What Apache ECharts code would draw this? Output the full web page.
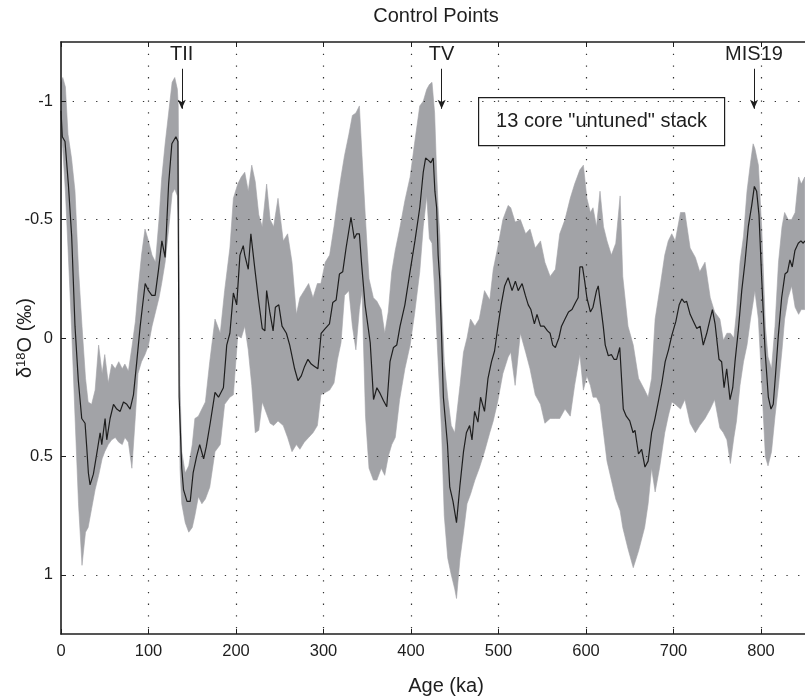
<!DOCTYPE html>
<html>
<head>
<meta charset="utf-8">
<title>Control Points</title>
<script src="https://cdn.jsdelivr.net/npm/echarts@6/dist/echarts.min.js"></script>
<style>
  html, body { margin: 0; padding: 0; background: #fff; }
  #chart { width: 805px; height: 700px; }
</style>
</head>
<body>
<div id="chart"></div>
<script>
// Stack mean (ka, permil)
const meanAge = [
  0, 1.5, 4.6, 8.4, 12.2, 16, 19.8, 23.7, 27.5, 29.4, 31.3, 33.2, 37, 40.8, 44.7, 46.6, 50.4, 52.3, 56.1, 60,
  63.7, 67.6, 71.4, 75.2, 79, 82.8, 86.6, 90.5, 93, 96.2, 100, 103.8, 107.6, 111.5, 115.3, 119, 123, 126.7, 131.3, 133.6,
  135, 138, 140, 144, 147.7, 151, 155, 158.5, 163, 166, 170.5, 176, 180, 185.6, 189.4, 193, 197, 200.8, 204.5, 208.3,
  210, 214, 217, 221.6, 225.4, 230, 233, 235, 238.6, 242.4, 245, 248.9, 252.6, 257.6, 261.4, 267, 270.8, 274.6, 278.4, 282.2,
  286, 289.8, 293.6, 297.3, 301.9, 306.8, 310.6, 314.4, 318.2, 322, 325.8, 331.4, 335.2, 338, 341, 343.6, 347.5, 351.2, 353.4, 357.2,
  361, 364.8, 368.6, 372.3, 376, 380, 383.7, 387.5, 393, 398.9, 404.5, 410, 414, 416.7, 420, 422.7, 425.4, 427.3, 429.3, 431,
  433, 435, 437, 441.7, 444.3, 448, 452, 456, 460, 463.3, 467, 469.7, 472.7, 476.5, 479.5, 484, 488, 492, 495.5, 499,
  503, 507, 511, 515.5, 519.3, 522.5, 527, 530.7, 534, 537, 541, 544, 548, 552, 556, 559, 562, 565, 569, 572,
  576, 580, 584, 588, 591, 593, 596, 598.5, 601, 605, 608, 612, 614, 616, 619.7, 622, 625.5, 629, 632, 635,
  638.6, 642.6, 646, 650, 653.8, 656, 660, 663.6, 667.4, 671, 675, 678.8, 682.6, 686.7, 690.5, 694.3, 698, 702.7, 706.5, 709.5,
  712.5, 715, 719, 722.8, 726.6, 730.4, 734, 738, 741.8, 744.5, 747.5, 752, 755, 757.8, 760.8, 764.6, 767.7, 770.3, 774, 778,
  781.7, 785.5, 789.4, 792.4, 795, 797.7, 800.8, 804.6, 808.4, 811.4, 814, 816.7, 819.8, 823.6, 827.4, 830.4, 833, 835.7, 838.8, 842.6,
  845.6, 848.3, 850
];
const meanD18O = [
  -0.96, -0.85, -0.83, -0.65, -0.43, -0.05, 0.18, 0.34, 0.36, 0.46, 0.57, 0.62, 0.575, 0.49, 0.40, 0.45, 0.34, 0.43, 0.34, 0.28,
  0.30, 0.31, 0.27, 0.28, 0.30, 0.24, 0.10, -0.05, -0.13, -0.23, -0.20, -0.18, -0.18, -0.29, -0.41, -0.34, -0.65, -0.82, -0.85, -0.83,
  0.25, 0.55, 0.64, 0.69, 0.69, 0.57, 0.50, 0.45, 0.51, 0.46, 0.36, 0.23, 0.25, 0.21, 0.03, -0.02, -0.19, -0.14, -0.35, -0.39,
  -0.35, -0.29, -0.44, -0.29, -0.17, -0.04, -0.03, -0.20, -0.11, -0.03, -0.13, -0.14, -0.05, -0.02, 0.03, 0.13, 0.18, 0.16, 0.12, 0.09,
  0.11, 0.12, 0.13, -0.02, -0.04, -0.06, -0.15, -0.16, -0.27, -0.28, -0.38, -0.51, -0.42, -0.44, -0.44, -0.31, -0.14, -0.04, 0.02, 0.26,
  0.21, 0.235, 0.265, 0.29, 0.10, 0.04, 0.03, -0.05, -0.14, -0.28, -0.41, -0.55, -0.70, -0.76, -0.75, -0.74, -0.76, -0.62, -0.55, -0.35,
  -0.24, 0.0, 0.25, 0.45, 0.63, 0.69, 0.78, 0.62, 0.48, 0.40, 0.37, 0.43, 0.31, 0.355, 0.25, 0.31, 0.17, 0.10, 0.055, -0.04,
  -0.14, -0.22, -0.255, -0.20, -0.24, -0.20, -0.23, -0.18, -0.14, -0.12, -0.06, -0.10, -0.05, -0.05, -0.03, -0.02, 0.03, 0.04, 0.0, -0.05,
  -0.08, -0.11, -0.12, -0.15, -0.17, -0.30, -0.30, -0.24, -0.17, -0.11, -0.13, -0.20, -0.22, -0.16, -0.05, 0.03, 0.075, 0.07, 0.09, 0.09,
  0.04, 0.30, 0.33, 0.35, 0.40, 0.39, 0.49, 0.47, 0.545, 0.52, 0.40, 0.34, 0.27, 0.19, 0.10, 0.05, -0.01, -0.07, -0.14, -0.165,
  -0.15, -0.155, -0.10, -0.07, -0.04, -0.05, 0.03, -0.02, -0.08, -0.12, -0.06, 0.09, 0.10, 0.21, 0.13, 0.26, 0.21, 0.10, -0.03, -0.20,
  -0.32, -0.47, -0.56, -0.64, -0.62, -0.52, -0.25, 0.05, 0.25, 0.30, 0.28, 0.15, -0.01, -0.17, -0.27, -0.28, -0.33, -0.30, -0.37, -0.40,
  -0.41, -0.40, -0.41
];

// Spread envelope of the 13 records
const bandAge = [
  0, 2, 5, 8, 12, 16, 20, 24, 28, 31, 35, 39, 43, 47, 50, 54, 58, 62, 66, 70,
  73, 77, 81, 85, 88, 92, 96, 100, 104, 108, 112, 115, 119, 123, 127, 130, 133, 134, 136, 138,
  142, 146, 150, 153, 157, 161, 165, 170, 176, 182, 187, 193, 197, 202, 206, 210, 214, 218, 222, 226,
  230, 235, 239, 243, 248, 254, 259, 264, 269, 273, 278, 283, 288, 293, 297, 302, 307, 312, 316, 320,
  324, 329, 333, 337, 341, 344, 348, 352, 357, 361, 366, 370, 374, 378, 382, 387, 393, 399, 404, 410,
  414, 418, 421, 424, 427, 429, 431, 433, 435, 438, 442, 446, 450, 452, 456, 460, 464, 468, 473, 478,
  484, 490, 494, 499, 505, 511, 514, 519, 525, 531, 536, 542, 548, 553, 559, 565, 570, 576, 582, 587,
  593, 597, 601, 605, 608, 612, 616, 620, 624, 629, 634, 639, 642, 648, 654, 660, 667, 671, 675, 679,
  684, 690, 694, 698, 702, 708, 713, 719, 725, 730, 736, 742, 747, 753, 757, 761, 765, 769, 772, 776,
  780, 784, 788, 791, 793, 797, 801, 805, 808, 812, 816, 820, 824, 827, 831, 835, 839, 843, 846, 850
];
const bandUpper = [
  -1.08, -1.10, -1.06, -0.86, -0.76, -0.62, -0.29, -0.05, 0.17, 0.27, 0.28, 0.22, 0.03, 0.15, 0.07, 0.19, 0.11, 0.13, 0.10, 0.13,
  0.11, 0.14, 0.04, -0.07, -0.20, -0.35, -0.46, -0.41, -0.35, -0.32, -0.50, -0.67, -0.82, -0.95, -1.08, -1.10, -1.05, -0.98, 0.20, 0.48,
  0.57, 0.54, 0.45, 0.34, 0.33, 0.30, 0.27, 0.10, -0.08, -0.02, -0.20, -0.38, -0.59, -0.65, -0.68, -0.70, -0.62, -0.73, -0.66, -0.52,
  -0.47, -0.65, -0.50, -0.47, -0.59, -0.41, -0.44, -0.32, -0.10, -0.17, -0.20, -0.23, -0.17, -0.23, -0.23, -0.32, -0.35, -0.47, -0.58, -0.68,
  -0.77, -0.86, -0.94, -0.95, -0.98, -0.77, -0.50, -0.25, -0.17, -0.155, -0.12, -0.02, -0.11, -0.28, -0.37, -0.46, -0.58, -0.68, -0.82, -0.98,
  -1.00, -1.05, -1.07, -1.08, -0.95, -0.73, -0.55, -0.43, -0.15, 0.10, 0.25, 0.37, 0.40, 0.33, 0.20, 0.06, 0.00, -0.08, -0.05, -0.08,
  -0.20, -0.16, -0.29, -0.38, -0.50, -0.56, -0.55, -0.49, -0.50, -0.44, -0.46, -0.38, -0.41, -0.32, -0.26, -0.29, -0.44, -0.50, -0.59, -0.65,
  -0.71, -0.73, -0.59, -0.53, -0.55, -0.47, -0.62, -0.47, -0.41, -0.35, -0.40, -0.60, -0.26, -0.05, 0.03, 0.17, 0.22, 0.25, 0.17, -0.08,
  -0.20, -0.35, -0.41, -0.44, -0.41, -0.53, -0.53, -0.38, -0.34, -0.28, -0.32, -0.17, -0.11, -0.08, 0.01, -0.02, -0.02, 0.00, -0.11, -0.32,
  -0.43, -0.62, -0.74, -0.82, -0.80, -0.73, -0.45, -0.05, 0.08, 0.13, -0.05, -0.32, -0.47, -0.53, -0.50, -0.50, -0.53, -0.68, -0.65, -0.68
];
const bandLower = [
  -0.90, -0.80, -0.62, -0.38, -0.05, 0.33, 0.70, 0.96, 0.82, 0.80, 0.72, 0.64, 0.58, 0.51, 0.48, 0.45, 0.43, 0.42, 0.44, 0.45,
  0.42, 0.44, 0.55, 0.33, 0.15, 0.10, 0.07, 0.03, -0.05, -0.11, -0.17, -0.23, -0.32, -0.46, -0.61, -0.63, -0.60, -0.50, 0.55, 0.70,
  0.78, 0.82, 0.80, 0.75, 0.67, 0.70, 0.68, 0.63, 0.48, 0.45, 0.28, 0.25, 0.24, -0.01, 0.00, -0.05, 0.05, 0.20, 0.40, 0.39,
  0.27, 0.32, 0.36, 0.37, 0.35, 0.37, 0.42, 0.48, 0.45, 0.47, 0.44, 0.42, 0.40, 0.37, 0.24, 0.23, 0.22, 0.19, 0.09, 0.02,
  -0.18, -0.20, -0.05, 0.05, -0.12, -0.20, 0.33, 0.55, 0.60, 0.60, 0.55, 0.58, 0.50, 0.45, 0.42, 0.26, 0.13, 0.03, -0.10, -0.28,
  -0.47, -0.60, -0.42, -0.40, -0.20, -0.05, 0.10, 0.25, 0.40, 0.75, 0.93, 1.00, 1.06, 1.10, 0.93, 0.82, 0.70, 0.66, 0.60, 0.55,
  0.48, 0.40, 0.35, 0.27, 0.15, 0.08, 0.06, 0.20, -0.02, 0.06, 0.13, 0.24, 0.28, 0.36, 0.34, 0.34, 0.34, 0.30, 0.33, 0.20,
  0.07, 0.22, 0.16, 0.20, 0.25, 0.25, 0.28, 0.40, 0.52, 0.60, 0.68, 0.73, 0.80, 0.89, 0.97, 0.90, 0.80, 0.70, 0.55, 0.65,
  0.55, 0.40, 0.33, 0.27, 0.28, 0.30, 0.26, 0.36, 0.40, 0.37, 0.34, 0.30, 0.26, 0.38, 0.40, 0.43, 0.53, 0.42, 0.35, 0.20,
  0.10, 0.03, -0.08, -0.15, -0.20, -0.08, 0.20, 0.50, 0.54, 0.48, 0.33, 0.20, 0.05, -0.08, -0.17, -0.22, -0.13, -0.10, -0.12, -0.12
];

// Axis ticks
const ageTicks = [0, 100, 200, 300, 400, 500, 600, 700, 800];
const d18OTicks = [-1, -0.5, 0, 0.5, 1];

// Control point markers
const markerNames = ['TII', 'TV', 'MIS19'];
const markerAges = [138, 435, 792];
const arrowFrom = -1.137;
const arrowTo = -0.968;

const FONT = '"Liberation Sans", Arial, Helvetica, sans-serif';
const INK = '#1e1e1e';
const BAND = '#a2a3a7';

const gridDots = { color: '#333', width: 1.2, type: [1.3, 10.4] };

const chart = echarts.init(document.getElementById('chart'), null, { renderer: 'canvas' });

const gridLines = []
  .concat(d18OTicks.map(v => ({ yAxis: v, lineStyle: gridDots })))
  .concat(ageTicks.filter(v => v > 0).map(v => ({ xAxis: v, lineStyle: gridDots })));

const arrows = markerNames.map((name, i) => [
  {
    coord: [markerAges[i], arrowFrom],
    symbol: 'none',
    lineStyle: { color: INK, width: 1, type: 'solid' },
    label: {
      show: true, position: 'start', formatter: name, distance: 4,
      color: INK, fontSize: 20, fontFamily: FONT
    }
  },
  { coord: [markerAges[i], arrowTo], symbol: 'arrow', symbolSize: [6, 9] }
]);

// Envelope drawn as one polygon: upper edge forward, lower edge back
function renderBand(params, api) {
  if (params.dataIndex !== 0) return null;
  const pts = [];
  for (let i = 0; i < bandAge.length; i++) pts.push(api.coord([bandAge[i], bandUpper[i]]));
  for (let i = bandAge.length - 1; i >= 0; i--) pts.push(api.coord([bandAge[i], bandLower[i]]));
  return {
    type: 'polygon',
    shape: { points: pts },
    style: { fill: BAND, stroke: BAND, lineWidth: 0.6 }
  };
}

chart.setOption({
  animation: false,
  backgroundColor: '#fff',
  title: {
    text: 'Control Points',
    left: 431, top: 1, textAlign: 'center',
    textStyle: { fontFamily: FONT, fontSize: 20, fontWeight: 'normal', color: INK }
  },
  grid: { left: 61, top: 42, right: -26, bottom: 66, outerBoundsMode: 'none', containLabel: false },
  xAxis: [
    {
      type: 'value', position: 'bottom', min: 0, max: 880, interval: 100, z: 5,
      name: 'Age (ka)', nameLocation: 'middle', nameGap: 42, nameMoveOverlap: false,
      nameTextStyle: { fontFamily: FONT, fontSize: 20, color: INK },
      axisLine: { show: true, onZero: false, lineStyle: { color: INK, width: 1.6 } },
      axisTick: { show: true, inside: true, length: 5, customValues: ageTicks, lineStyle: { color: INK, width: 1 } },
      axisLabel: { show: true, customValues: ageTicks, margin: 9, fontFamily: FONT, fontSize: 16.5, color: INK },
      splitLine: { show: false }
    },
    {
      type: 'value', position: 'top', min: 0, max: 880, interval: 100, z: 5,
      axisLine: { show: true, onZero: false, lineStyle: { color: INK, width: 1.6 } },
      axisTick: { show: true, inside: true, length: 5, customValues: ageTicks, lineStyle: { color: INK, width: 1 } },
      axisLabel: { show: false },
      splitLine: { show: false }
    }
  ],
  yAxis: {
    type: 'value', inverse: true, min: -1.25, max: 1.25, interval: 0.25, z: 5,
    name: '{t|δ}{s|18}{t|O (‰)}', nameLocation: 'middle', nameGap: 25, nameRotate: 90, nameMoveOverlap: false,
    nameTextStyle: {
      rich: {
        t: { fontFamily: FONT, fontSize: 20, color: INK },
        s: { fontFamily: FONT, fontSize: 13, color: INK, verticalAlign: 'bottom', padding: [0, 0, 8, 0] }
      }
    },
    axisLine: { show: true, onZero: false, lineStyle: { color: INK, width: 1.6 } },
    axisTick: { show: true, inside: true, length: 5, customValues: d18OTicks, lineStyle: { color: INK, width: 1 } },
    axisLabel: {
      show: true, customValues: d18OTicks, margin: 8,
      fontFamily: FONT, fontSize: 16.5, color: INK,
      formatter: v => String(v)
    },
    splitLine: { show: false }
  },
  graphic: [
    {
      type: 'group', left: 478, top: 97, z: 20,
      children: [
        { type: 'rect', shape: { x: 0, y: 0, width: 246, height: 48 },
          style: { fill: '#fff', stroke: INK, lineWidth: 1.2 } },
        { type: 'text', x: 123, y: 24,
          style: { text: '13 core "untuned" stack', font: '20px ' + FONT, fill: INK,
                   align: 'center', verticalAlign: 'middle' } }
      ]
    }
  ],
  series: [
    {
      name: 'band', type: 'custom', z: 1, silent: true,
      data: bandAge.map((a, i) => [a, bandUpper[i], bandLower[i]]),
      encode: { x: 0, y: [1, 2] },
      renderItem: renderBand
    },
    {
      name: 'mean', type: 'line', z: 3,
      data: meanAge.map((a, i) => [a, meanD18O[i]]),
      showSymbol: false, silent: true,
      lineStyle: { color: INK, width: 1.2 },
      markLine: {
        silent: true, animation: false,
        symbol: ['none', 'none'],
        label: { show: false },
        emphasis: { disabled: true },
        data: gridLines.concat(arrows)
      }
    }
  ]
});
</script>
</body>
</html>
